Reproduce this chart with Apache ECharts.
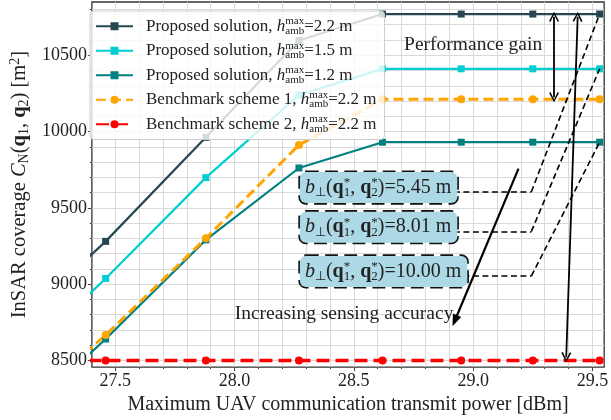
<!DOCTYPE html>
<html>
<head>
<meta charset="utf-8">
<script src="https://cdn.jsdelivr.net/npm/echarts@6/dist/echarts.min.js"></script>
<style>html,body{margin:0;padding:0;background:#fff}#c{width:611px;height:420px}</style>
</head>
<body>
<div id="c"></div>
<script>
// ---------- data ----------
const xPower = [26.99, 27.46, 27.88, 28.27, 28.62, 28.95, 29.25, 29.53];
const prop22 = [8595, 9280, 9962, 10597, 10770, 10770, 10770, 10770];
const prop15 = [8336, 9037, 9698, 10239, 10411, 10411, 10411, 10411];
const prop12 = [7963, 8640, 9290, 9761, 9930, 9930, 9930, 9930];
const bench1 = [8036, 8666, 9300, 9912, 10211, 10211, 10211, 10211];
const bench2 = [8500, 8500, 8500, 8500, 8500, 8500, 8500, 8500];
const seriesLabels = ['Proposed solution', 'Proposed solution', 'Proposed solution', 'Benchmark scheme 1', 'Benchmark scheme 2'];
const hAmb = ['2.2', '1.5', '1.2', '2.2', '2.2'];
const xMajorTicks = [27.5, 28.0, 28.5, 29.0, 29.5];
const xMinorTicks = [27.5, 27.6, 27.7, 27.8, 27.9, 28.0, 28.1, 28.2, 28.3, 28.4, 28.5, 28.6, 28.7, 28.8, 28.9, 29.0, 29.1, 29.2, 29.3, 29.4, 29.5];
const yMajorTicks = [8500, 9000, 9500, 10000, 10500];
const yMinorTicks = [8500, 8600, 8700, 8800, 8900, 9000, 9100, 9200, 9300, 9400, 9500, 9600, 9700, 9800, 9900, 10000, 10100, 10200, 10300, 10400, 10500, 10600, 10700, 10800];
const X_MIN = 27.4024, X_MAX = 29.549, Y_MIN = 8456, Y_MAX = 10849;
// annotation anchors (data coordinates)
const boxValues = ['5.45', '8.01', '10.00'];
const boxAnchors = [[28.272, 9633], [28.272, 9373], [28.272, 9083]];
const leaderBend = [[29.244, 9605], [29.244, 9345], [29.244, 9053]];
const leaderEnd = [[29.53, 10770], [29.53, 10411], [29.53, 9930]];
const gainArrow = [[29.339, 10752], [29.339, 10225]];
const longArrow = [[29.438, 10752], [29.390, 8521]];
const accArrow = [[29.190, 9757], [28.923, 8760]];
const gainText = [29.0, 10570];
const accText = [28.459, 8803];

// ---------- styles ----------
const F = 'Liberation Serif';
const TXT = '#222';
function rich(size, lh) {
  const sm = Math.round(size * 0.66);
  return {
    t: {fontFamily: F, fontSize: size, color: TXT, lineHeight: lh},
    i: {fontFamily: F, fontSize: size, color: TXT, fontStyle: 'italic', lineHeight: lh},
    b: {fontFamily: F, fontSize: size, color: TXT, fontWeight: 'bold', lineHeight: lh},
    s: {fontFamily: F, fontSize: sm, color: TXT, verticalAlign: 'bottom', lineHeight: lh},
    p: {fontFamily: F, fontSize: sm, color: TXT, verticalAlign: 'top', width: 0, lineHeight: lh},
    u: {fontFamily: F, fontSize: sm, color: TXT, verticalAlign: 'top', lineHeight: lh}
  };
}
const colors = ['#264653', '#00ced1', '#008080', '#ffa500', '#ff0000'];
const seriesVals = [prop22, prop15, prop12, bench1, bench2];
const names = seriesLabels.map((l, i) => l + ', h=' + hAmb[i] + ' m #' + i);

const series = seriesVals.map((vals, i) => {
  const dashed = i >= 3;
  return {
    name: names[i], type: 'line',
    data: xPower.map((x, k) => [x, vals[k]]),
    symbol: dashed ? 'circle' : 'rect',
    symbolSize: dashed ? 8 : 7,
    showAllSymbol: true,
    lineStyle: {color: colors[i], width: dashed ? (i === 4 ? 3.5 : 3) : 2.2, type: dashed ? (i === 4 ? [13, 6] : [10, 5]) : 'solid'},
    itemStyle: {color: colors[i]},
    z: 2
  };
});

const chevron = 'path://M5,0 L10,10 L8.5,10.7 L5,3 L1.5,10.7 L0,10 Z';
const dashStyle = {color: '#000', width: 1.6, type: [6, 3.5]};
const mlData = [];
for (let k = 0; k < 3; k++) {
  mlData.push([{coord: [28.8, leaderBend[k][1]], symbol: 'none', lineStyle: dashStyle}, {coord: leaderBend[k], symbol: 'none'}]);
  mlData.push([{coord: leaderBend[k], symbol: 'none', lineStyle: dashStyle}, {coord: leaderEnd[k], symbol: 'none'}]);
}
const solidArrow = {color: '#000', width: 1.8, type: 'solid'};
mlData.push([{coord: gainArrow[0], symbol: chevron, symbolSize: [10, 10], lineStyle: solidArrow}, {coord: gainArrow[1], symbol: chevron, symbolSize: [10, 10]}]);
mlData.push([{coord: longArrow[0], symbol: chevron, symbolSize: [10, 10], lineStyle: solidArrow}, {coord: longArrow[1], symbol: chevron, symbolSize: [10, 10]}]);
mlData.push([{coord: accArrow[0], symbol: 'none', lineStyle: {color: '#000', width: 2.2, type: 'solid'}}, {coord: accArrow[1], symbol: 'triangle', symbolSize: [9, 12]}]);

const boxText = v => '{i|b}{s|⊥}{t|(}{b|q}{p|*}{s|1}{t|, }{b|q}{p|*}{s|2}{t|)=' + v + ' m}';
const mpData = boxValues.map((v, k) => ({
  coord: boxAnchors[k],
  label: {
    show: true, position: 'right', distance: 0, formatter: boxText(v),
    backgroundColor: '#add8e6', borderColor: '#111', borderWidth: 1.6, borderType: 'dashed',
    borderRadius: 6, padding: [4, 6, 4, 5], rich: rich(20, 23)
  }
}));
mpData.push({coord: gainText, label: {show: true, position: 'inside', formatter: 'Performance gain', fontFamily: F, fontSize: 19.5, color: TXT}});
mpData.push({coord: accText, label: {show: true, position: 'inside', formatter: 'Increasing sensing accuracy', fontFamily: F, fontSize: 19.5, color: TXT}});

series.push({
  name: 'annot', type: 'line', data: [], z: 3, silent: true,
  markLine: {silent: true, animation: false, symbol: 'none', label: {show: false}, lineStyle: {color: '#000'}, data: mlData},
  markPoint: {silent: true, animation: false, symbol: 'circle', symbolSize: 1, itemStyle: {color: 'rgba(0,0,0,0)'}, data: mpData}
});

const tickStyle = {color: '#444', width: 1};
const gridLine = {color: '#d9d9d9', width: 1};
const labelStyle = {fontFamily: F, fontSize: 18, color: TXT};

const option = {
  animation: false,
  backgroundColor: '#fff',
  grid: {left: 82, right: 2, top: 2, bottom: 50, show: true, borderColor: '#333', borderWidth: 1.3, backgroundColor: 'rgba(0,0,0,0)'},
  xAxis: [
    {type: 'value', min: X_MIN, max: X_MAX, position: 'bottom', axisLine: {show: false},
     axisTick: {show: true, customValues: xMinorTicks, length: 2, lineStyle: tickStyle},
     axisLabel: {show: false}, splitLine: {show: true, lineStyle: gridLine}},
    {type: 'value', min: X_MIN, max: X_MAX, position: 'bottom', axisLine: {show: false},
     axisTick: {show: true, customValues: xMajorTicks, length: 4, lineStyle: tickStyle},
     axisLabel: Object.assign({show: true, customValues: xMajorTicks, margin: 5, formatter: v => v.toFixed(1)}, labelStyle),
     splitLine: {show: false},
     name: 'Maximum UAV communication transmit power [dBm]', nameLocation: 'middle', nameGap: 26,
     nameTextStyle: {fontFamily: F, fontSize: 20, color: TXT}}
  ],
  yAxis: [
    {type: 'value', min: Y_MIN, max: Y_MAX, position: 'left', axisLine: {show: false},
     axisTick: {show: true, customValues: yMinorTicks, length: 2, lineStyle: tickStyle},
     axisLabel: {show: false}, splitLine: {show: true, lineStyle: gridLine}},
    {type: 'value', min: Y_MIN, max: Y_MAX, position: 'left', axisLine: {show: false},
     axisTick: {show: true, customValues: yMajorTicks, length: 4, lineStyle: tickStyle},
     axisLabel: Object.assign({show: true, customValues: yMajorTicks, margin: 5, formatter: v => String(v)}, labelStyle),
     splitLine: {show: false},
     name: '{t|InSAR coverage }{i|C}{s|N}{t|(}{b|q}{s|1}{t|, }{b|q}{s|2}{t|) [m}{u|2}{t|]}',
     nameLocation: 'middle', nameGap: 56,
     nameTextStyle: {fontFamily: F, fontSize: 20.5, color: TXT, rich: rich(20.5, 23)}}
  ],
  legend: {
    data: names, left: 90, top: 11, orient: 'vertical',
    itemWidth: 37, itemHeight: 10, itemGap: 4, padding: [5, 8, 5, 5],
    backgroundColor: 'rgba(255,255,255,0.8)', borderColor: '#ccc', borderWidth: 1, borderRadius: 4,
    textStyle: {fontFamily: F, fontSize: 17, color: TXT, lineHeight: 20.5, padding: [0, 0, 0, 8], rich: rich(17, 20.5)},
    formatter: name => {
      const i = names.indexOf(name);
      return '{t|' + seriesLabels[i] + ', }{i|h}{p|max}{s|amb}{t|=' + hAmb[i] + ' m}';
    }
  },
  series: series
};
const chart = echarts.init(document.getElementById('c'), null, {renderer: 'canvas'});
chart.setOption(option);
</script>
</body>
</html>
